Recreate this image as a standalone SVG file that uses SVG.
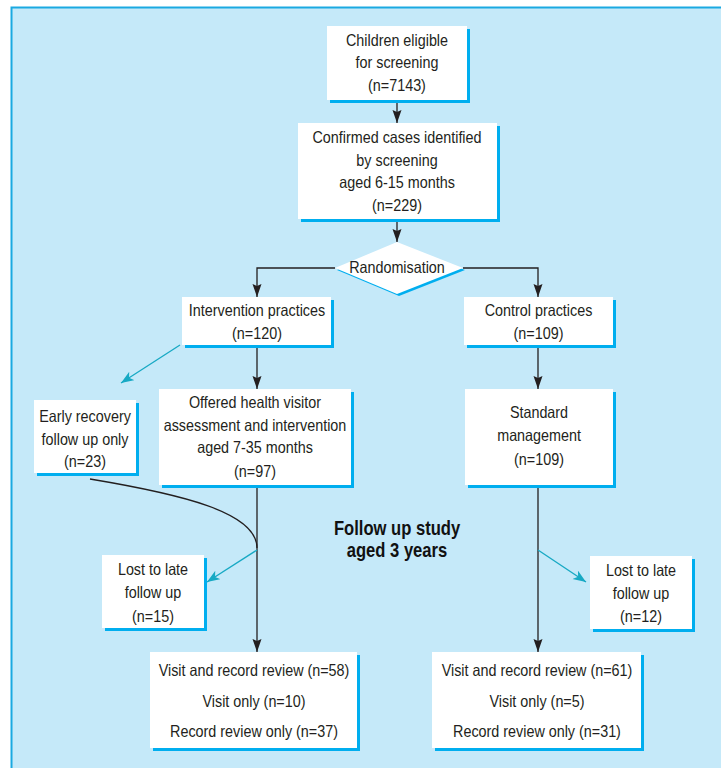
<svg xmlns="http://www.w3.org/2000/svg" width="721" height="768" viewBox="0 0 721 768">
<style>
.t{font-family:"Liberation Sans",Arial,sans-serif;font-size:16.5px;fill:#231f20;text-anchor:middle;transform-box:fill-box;transform-origin:center;transform:scaleX(0.87)}
.b{font-family:"Liberation Sans",Arial,sans-serif;font-size:20px;font-weight:bold;fill:#111;text-anchor:middle;transform-box:fill-box;transform-origin:center;transform:scaleX(0.83)}
.sh{fill:#00aeef}
.bx{fill:#fff}
.k{fill:none;stroke:#231f20;stroke-width:1.3}
.c{fill:none;stroke:#17a9c4;stroke-width:1.3}
</style>
<defs>
<marker id="ak" markerUnits="userSpaceOnUse" markerWidth="14" markerHeight="10" refX="13" refY="4.5" orient="auto">
<path d="M0,0 L13,4.5 L0,9 L2,4.5 z" fill="#231f20"/>
</marker>
<marker id="ac" markerUnits="userSpaceOnUse" markerWidth="14" markerHeight="12" refX="13" refY="5" orient="auto">
<path d="M0,0 L13,5 L0,10 L3.5,5 z" fill="#17a9c4"/>
</marker>
</defs>
<rect x="11.5" y="7.5" width="720" height="770" fill="#c5e9f9" stroke="#1ba9e1" stroke-width="2"/>

<g id="connectors">
<path class="k" d="M397,100 V123" marker-end="url(#ak)"/>
<path class="k" d="M397,219 V242" marker-end="url(#ak)"/>
<path class="k" d="M335,268 H257 V297" marker-end="url(#ak)"/>
<path class="k" d="M463,268 H538 V297" marker-end="url(#ak)"/>
<path class="k" d="M257,345 V389" marker-end="url(#ak)"/>
<path class="k" d="M538,345 V389" marker-end="url(#ak)"/>
<path class="c" d="M180,345 L121,383" marker-end="url(#ac)"/>
<path class="k" d="M257,485 V652" marker-end="url(#ak)"/>
<path class="k" d="M90,479 C180,494 257,512 257,548"/>
<path class="c" d="M257,550 L207,582" marker-end="url(#ac)"/>
<path class="k" d="M538,485 V652" marker-end="url(#ak)"/>
<path class="c" d="M538,550 L586,582" marker-end="url(#ac)"/>
</g>

<g id="eligible">
<rect class="sh" x="330" y="29" width="140" height="74"/>
<rect class="bx" x="327" y="26" width="140" height="74"/>
<text class="t" x="397" y="46">Children eligible</text>
<text class="t" x="397" y="68.5">for screening</text>
<text class="t" x="397" y="91">(n=7143)</text>
</g>

<g id="confirmed">
<rect class="sh" x="301" y="126" width="199" height="96"/>
<rect class="bx" x="298" y="123" width="199" height="96"/>
<text class="t" x="397" y="143.5">Confirmed cases identified</text>
<text class="t" x="397" y="166">by screening</text>
<text class="t" x="397" y="188">aged 6-15 months</text>
<text class="t" x="397" y="211">(n=229)</text>
</g>

<g id="randomisation">
<polygon points="399,244 465,270 399,296 337,270" fill="#00aeef"/>
<polygon points="397,242 463,268 397,294 335,268" fill="#fff"/>
<text class="t" x="397" y="273.5">Randomisation</text>
</g>

<g id="intervention">
<rect class="sh" x="185" y="300" width="149" height="48"/>
<rect class="bx" x="182" y="297" width="149" height="48"/>
<text class="t" x="257" y="316.5">Intervention practices</text>
<text class="t" x="257" y="339">(n=120)</text>
</g>

<g id="control">
<rect class="sh" x="467" y="300" width="149" height="48"/>
<rect class="bx" x="464" y="297" width="149" height="48"/>
<text class="t" x="538.5" y="316.5">Control practices</text>
<text class="t" x="538.5" y="339">(n=109)</text>
</g>

<g id="early">
<rect class="sh" x="37" y="403" width="102" height="73"/>
<rect class="bx" x="34" y="400" width="102" height="73"/>
<text class="t" x="85" y="422.5">Early recovery</text>
<text class="t" x="85" y="445">follow up only</text>
<text class="t" x="85" y="467.5">(n=23)</text>
</g>

<g id="offered">
<rect class="sh" x="162" y="392" width="192" height="96"/>
<rect class="bx" x="159" y="389" width="192" height="96"/>
<text class="t" x="255" y="408.5">Offered health visitor</text>
<text class="t" x="255" y="431">assessment and intervention</text>
<text class="t" x="255" y="453.5">aged 7-35 months</text>
<text class="t" x="255" y="477">(n=97)</text>
</g>

<g id="standard">
<rect class="sh" x="468" y="392" width="148" height="96"/>
<rect class="bx" x="465" y="389" width="148" height="96"/>
<text class="t" x="539" y="418.5">Standard</text>
<text class="t" x="539" y="441.5">management</text>
<text class="t" x="539" y="465">(n=109)</text>
</g>

<g id="followup">
<text class="b" x="397" y="535">Follow up study</text>
<text class="b" x="397" y="557.5">aged 3 years</text>
</g>

<g id="lost-left">
<rect class="sh" x="105" y="558" width="102" height="73"/>
<rect class="bx" x="102" y="555" width="102" height="73"/>
<text class="t" x="153" y="575.5">Lost to late</text>
<text class="t" x="153" y="598.5">follow up</text>
<text class="t" x="153" y="622">(n=15)</text>
</g>

<g id="lost-right">
<rect class="sh" x="593" y="559" width="102" height="73"/>
<rect class="bx" x="590" y="556" width="102" height="73"/>
<text class="t" x="641" y="576.5">Lost to late</text>
<text class="t" x="641" y="599">follow up</text>
<text class="t" x="641" y="622.5">(n=12)</text>
</g>

<g id="result-left">
<rect class="sh" x="153" y="655" width="207" height="96"/>
<rect class="bx" x="150" y="652" width="207" height="96"/>
<text class="t" x="254" y="676">Visit and record review (n=58)</text>
<text class="t" x="254" y="707">Visit only (n=10)</text>
<text class="t" x="254" y="737">Record review only (n=37)</text>
</g>

<g id="result-right">
<rect class="sh" x="435" y="655" width="209" height="96"/>
<rect class="bx" x="432" y="652" width="209" height="96"/>
<text class="t" x="537" y="676">Visit and record review (n=61)</text>
<text class="t" x="537" y="707">Visit only (n=5)</text>
<text class="t" x="537" y="737">Record review only (n=31)</text>
</g>
</svg>
